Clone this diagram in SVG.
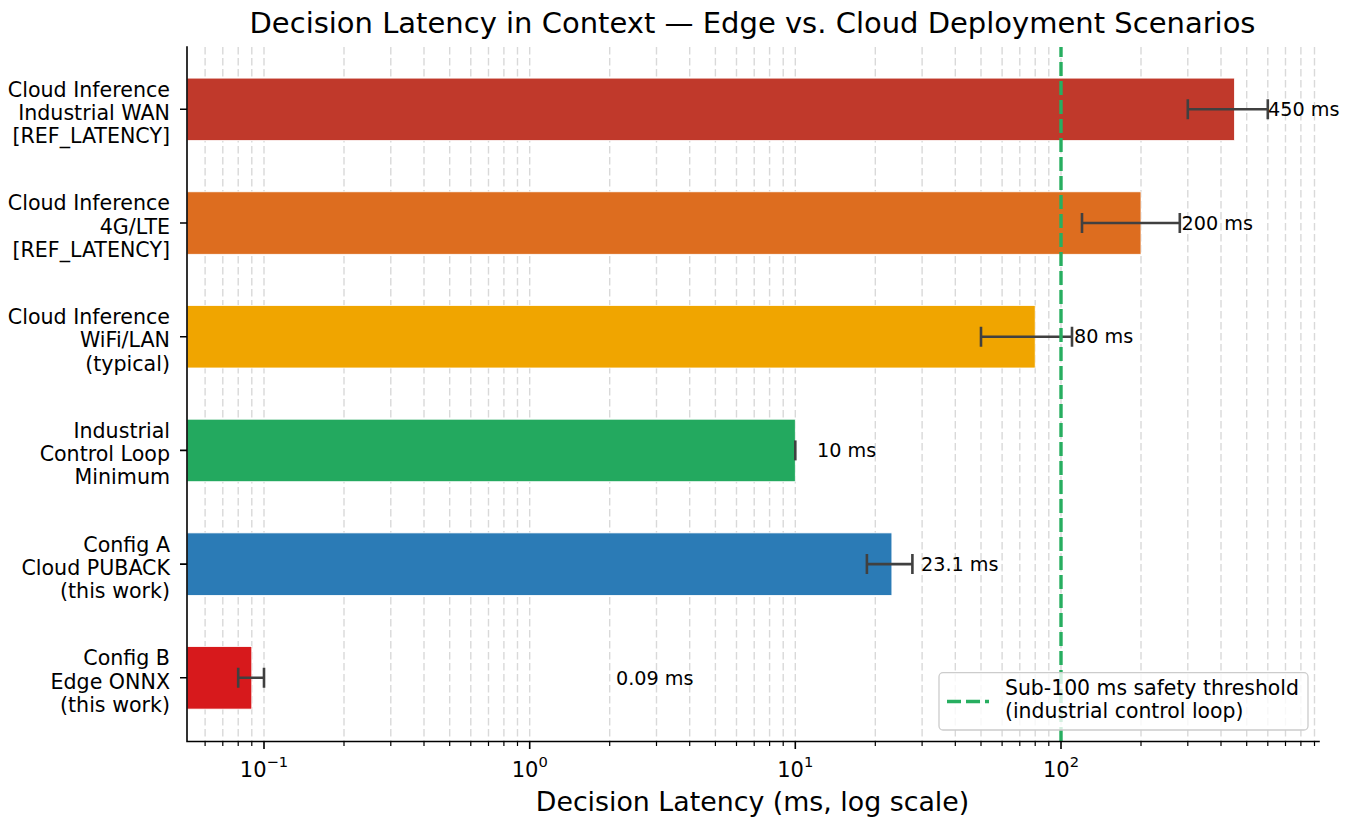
<svg xmlns="http://www.w3.org/2000/svg" width="1353" height="821" viewBox="0 0 1353 821">
  <style>
    text { font-family: "DejaVu Sans", "Liberation Sans", sans-serif; fill: #000; }
    .grid { fill: none; stroke: #d9d9d9; stroke-width: 1.4; stroke-dasharray: 7.4 3.6; }
    .spine { fill: none; stroke: #000; stroke-width: 1.6; stroke-linecap: square; }
    .tick { fill: none; stroke: #000; stroke-width: 1.6; }
    .mtick { fill: none; stroke: #000; stroke-width: 1.2; }
    .bar { stroke: #fff; stroke-width: 0.8; }
    .err { fill: none; stroke: #404040; stroke-width: 2.6; }
    .ylab { font-size: 20.6px; text-anchor: end; }
    .xlab { font-size: 21px; text-anchor: middle; }
    .val { font-size: 19.2px; }
    .thr { fill: none; stroke: #27ae60; stroke-width: 3.4; stroke-dasharray: 14 5; }
  </style>

  <rect width="1353" height="821" fill="#fff"/>

  <!-- title -->
  <text x="752.5" y="33" font-size="29" text-anchor="middle">Decision Latency in Context — Edge vs. Cloud Deployment Scenarios</text>

  <!-- vertical grid at every major and minor log tick -->
  <path class="grid" d="M205.1,47V741 M222.8,47V741 M238.2,47V741 M251.8,47V741
    M264,47V741 M344,47V741 M390.8,47V741 M424,47V741 M449.7,47V741 M470.8,47V741 M488.5,47V741 M503.9,47V741 M517.5,47V741
    M529.7,47V741 M609.7,47V741 M656.5,47V741 M689.7,47V741 M715.4,47V741 M736.5,47V741 M754.2,47V741 M769.6,47V741 M783.2,47V741
    M795.3,47V741 M875.3,47V741 M922.1,47V741 M955.3,47V741 M981,47V741 M1002.1,47V741 M1019.8,47V741 M1035.2,47V741 M1048.8,47V741
    M1061,47V741 M1141,47V741 M1187.8,47V741 M1221,47V741 M1246.7,47V741 M1267.8,47V741 M1285.5,47V741 M1300.9,47V741 M1314.5,47V741"/>

  <!-- bars -->
  <g id="bar-cloud-wan">
    <rect class="bar" x="187" y="78.1" width="1047.5" height="62.5" fill="#c0392b"/>
  </g>
  <g id="bar-cloud-lte">
    <rect class="bar" x="187" y="191.8" width="954" height="62.5" fill="#dd6d1f"/>
  </g>
  <g id="bar-cloud-wifi">
    <rect class="bar" x="187" y="305.5" width="848.2" height="62.5" fill="#f0a500"/>
  </g>
  <g id="bar-control-loop">
    <rect class="bar" x="187" y="419.2" width="608.3" height="62.5" fill="#23a95f"/>
  </g>
  <g id="bar-config-a">
    <rect class="bar" x="187" y="532.9" width="704.9" height="62.5" fill="#2b7bb6"/>
  </g>
  <g id="bar-config-b">
    <rect class="bar" x="187" y="646.6" width="64.8" height="62.5" fill="#d7191c"/>
  </g>

  <!-- error bars -->
  <g id="errorbars">
    <path class="err" d="M1187.8,109.3H1267.8 M1187.8,99.3V119.3 M1267.8,99.3V119.3"/>
    <path class="err" d="M1082,223H1179.8 M1082,213V233 M1179.8,213V233"/>
    <path class="err" d="M981,336.7H1072 M981,326.7V346.7 M1072,326.7V346.7"/>
    <path class="err" d="M795.3,440.4V460.4"/>
    <path class="err" d="M866.9,564.1H912.4 M866.9,554.1V574.1 M912.4,554.1V574.1"/>
    <path class="err" d="M238.2,677.8H264 M238.2,667.8V687.8 M264,667.8V687.8"/>
  </g>

  <!-- value labels -->
  <g id="values">
    <text class="val" x="1268" y="116">450 ms</text>
    <text class="val" x="1181.5" y="229.7">200 ms</text>
    <text class="val" x="1074" y="343.4">80 ms</text>
    <text class="val" x="817" y="457.1">10 ms</text>
    <text class="val" x="921" y="570.8">23.1 ms</text>
    <text class="val" x="616" y="684.5">0.09 ms</text>
  </g>

  <!-- threshold line -->
  <g id="threshold">
    <path class="thr" d="M1061,741V47"/>
  </g>

  <!-- axes -->
  <g id="axes">
    <path class="spine" d="M187,47V741.5H1319"/>
    <path class="tick" d="M180,109.3H187 M180,223H187 M180,336.7H187 M180,450.4H187 M180,564.1H187 M180,677.8H187"/>
    <path class="tick" d="M264,741.5V749 M529.7,741.5V749 M795.3,741.5V749 M1061,741.5V749"/>
    <path class="mtick" d="M205.1,741.5V746 M222.8,741.5V746 M238.2,741.5V746 M251.8,741.5V746
      M344,741.5V746 M390.8,741.5V746 M424,741.5V746 M449.7,741.5V746 M470.8,741.5V746 M488.5,741.5V746 M503.9,741.5V746 M517.5,741.5V746
      M609.7,741.5V746 M656.5,741.5V746 M689.7,741.5V746 M715.4,741.5V746 M736.5,741.5V746 M754.2,741.5V746 M769.6,741.5V746 M783.2,741.5V746
      M875.3,741.5V746 M922.1,741.5V746 M955.3,741.5V746 M981,741.5V746 M1002.1,741.5V746 M1019.8,741.5V746 M1035.2,741.5V746 M1048.8,741.5V746
      M1141,741.5V746 M1187.8,741.5V746 M1221,741.5V746 M1246.7,741.5V746 M1267.8,741.5V746 M1285.5,741.5V746 M1300.9,741.5V746 M1314.5,741.5V746"/>
  </g>

  <!-- category labels -->
  <g id="ylabels">
    <text class="ylab" x="170" y="96.7">Cloud Inference</text>
    <text class="ylab" x="170" y="120">Industrial WAN</text>
    <text class="ylab" x="170" y="143.3">[REF_LATENCY]</text>

    <text class="ylab" x="170" y="210.4">Cloud Inference</text>
    <text class="ylab" x="170" y="233.7">4G/LTE</text>
    <text class="ylab" x="170" y="257">[REF_LATENCY]</text>

    <text class="ylab" x="170" y="324.1">Cloud Inference</text>
    <text class="ylab" x="170" y="347.4">WiFi/LAN</text>
    <text class="ylab" x="170" y="370.7">(typical)</text>

    <text class="ylab" x="170" y="437.8">Industrial</text>
    <text class="ylab" x="170" y="461.1">Control Loop</text>
    <text class="ylab" x="170" y="484.4">Minimum</text>

    <text class="ylab" x="170" y="551.5">Config A</text>
    <text class="ylab" x="170" y="574.8">Cloud PUBACK</text>
    <text class="ylab" x="170" y="598.1">(this work)</text>

    <text class="ylab" x="170" y="665.2">Config B</text>
    <text class="ylab" x="170" y="688.5">Edge ONNX</text>
    <text class="ylab" x="170" y="711.8">(this work)</text>
  </g>

  <!-- x tick labels -->
  <g id="xticklabels">
    <text class="xlab" x="264" y="777">10<tspan dy="-10" font-size="14.7">−1</tspan></text>
    <text class="xlab" x="529.7" y="777">10<tspan dy="-10" font-size="14.7">0</tspan></text>
    <text class="xlab" x="795.3" y="777">10<tspan dy="-10" font-size="14.7">1</tspan></text>
    <text class="xlab" x="1061" y="777">10<tspan dy="-10" font-size="14.7">2</tspan></text>
  </g>

  <text x="752.5" y="811" font-size="26.8" text-anchor="middle">Decision Latency (ms, log scale)</text>

  <!-- legend -->
  <g id="legend">
    <rect x="939" y="672.7" width="369" height="57.3" rx="4" fill="#fff" fill-opacity="0.8" stroke="#ccc" stroke-width="1.3"/>
    <path d="M947,701.5H989" fill="none" stroke="#27ae60" stroke-width="3.4" stroke-dasharray="14 5"/>
    <text x="1005" y="695" font-size="20.4">Sub-100 ms safety threshold</text>
    <text x="1005" y="718" font-size="20.4">(industrial control loop)</text>
  </g>
</svg>
